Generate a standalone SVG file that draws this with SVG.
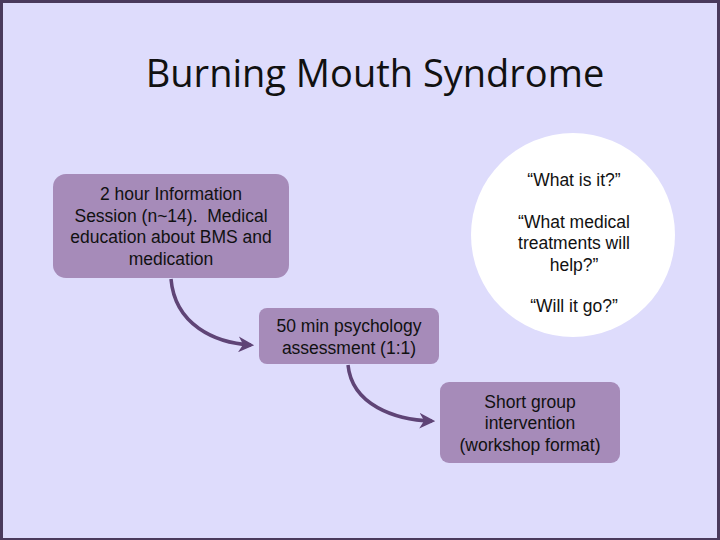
<svg xmlns="http://www.w3.org/2000/svg" width="720" height="540" viewBox="0 0 720 540">
<style>
.box{fill:#A68BB9;}
.t{font-family:"Liberation Sans",Arial,sans-serif;font-size:17.5px;fill:#111;text-anchor:middle;}
.conn{fill:none;stroke:#5F4476;stroke-width:3.5;}
</style>
<defs>
<marker id="ah" viewBox="0 0 10 10" refX="8" refY="5" markerWidth="4.5" markerHeight="4.5" orient="auto" markerUnits="strokeWidth">
<path d="M0,0 L10,5 L0,10 L3,5 Z" fill="#5F4476"/>
</marker>
</defs>
<rect x="0" y="0" width="720" height="540" fill="#4A3A5C"/>
<rect x="3" y="3" width="714" height="535" fill="#DEDCFC"/>
<text x="375" y="87" font-family="'Open Sans','Noto Sans',sans-serif" font-size="38" fill="#111" text-anchor="middle">Burning Mouth Syndrome</text>
<g id="questions">
<circle cx="573" cy="235" r="102" fill="#FFFFFF"/>
<text class="t" x="574" y="186">“What is it?”</text>
<text class="t" x="574" y="228">“What medical</text>
<text class="t" x="574" y="249">treatments will</text>
<text class="t" x="574" y="271">help?”</text>
<text class="t" x="574" y="312">“Will it go?”</text>
</g>
<g id="connectors">
<path class="conn" d="M171,279 C175,325 215,343 251,345" marker-end="url(#ah)"/>
<path class="conn" d="M348,365 C352,405 395,420 432,421" marker-end="url(#ah)"/>
</g>
<g id="info">
<rect class="box" x="53" y="174" width="236" height="104" rx="13"/>
<text class="t" x="171" y="200">2 hour Information</text>
<text class="t" x="171" y="222" xml:space="preserve">Session (n~14).  Medical</text>
<text class="t" x="171" y="243">education about BMS and</text>
<text class="t" x="171" y="265">medication</text>
</g>
<g id="assessment">
<rect class="box" x="259" y="308" width="180" height="56" rx="8"/>
<text class="t" x="349" y="332">50 min psychology</text>
<text class="t" x="349" y="354">assessment (1:1)</text>
</g>
<g id="group">
<rect class="box" x="440" y="382" width="180" height="81" rx="9"/>
<text class="t" x="530" y="408">Short group</text>
<text class="t" x="530" y="429">intervention</text>
<text class="t" x="530" y="451">(workshop format)</text>
</g>
</svg>
